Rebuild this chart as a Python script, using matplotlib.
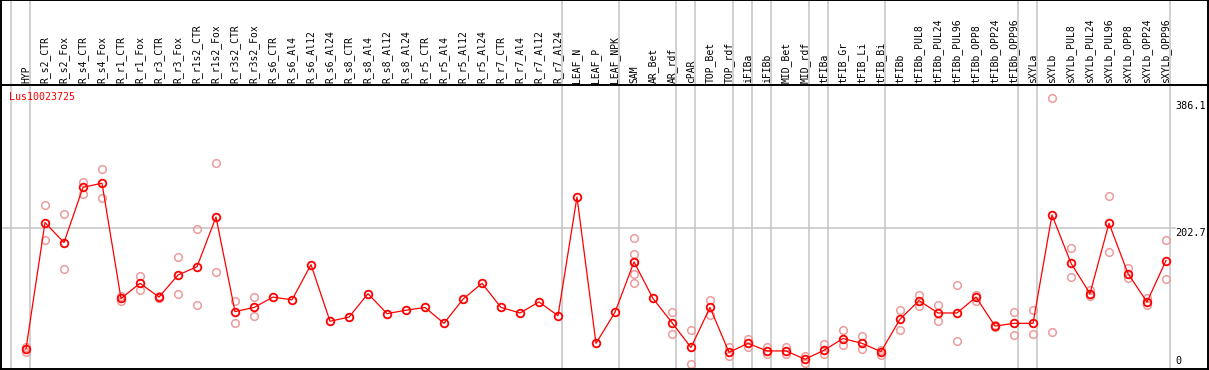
import matplotlib
matplotlib.use("Agg")
import matplotlib.pyplot as plt
from matplotlib.lines import Line2D

# sample names, in plot order
samples = ["HYP", "R_s2_CTR", "R_s2_Fox", "R_s4_CTR", "R_s4_Fox", "R_r1_CTR", "R_r1_Fox",
           "R_r3_CTR", "R_r3_Fox", "R_r1s2_CTR", "R_r1s2_Fox", "R_r3s2_CTR", "R_r3s2_Fox",
           "R_s6_CTR", "R_s6_Al4", "R_s6_Al12", "R_s6_Al24", "R_s8_CTR", "R_s8_Al4",
           "R_s8_Al12", "R_s8_Al24", "R_r5_CTR", "R_r5_Al4", "R_r5_Al12", "R_r5_Al24",
           "R_r7_CTR", "R_r7_Al4", "R_r7_Al12", "R_r7_Al24", "LEAF_N", "LEAF_P", "LEAF_NPK",
           "SAM", "AR_Bet", "AR_rdf", "cPAR", "TOP_Bet", "TOP_rdf", "iFIBa", "iFIBb",
           "MID_Bet", "MID_rdf", "tFIBa", "tFIB_Gr", "tFIB_Li", "tFIB_Bi", "tFIBb",
           "tFIBb_PUL8", "tFIBb_PUL24", "tFIBb_PUL96", "tFIBb_OPP8", "tFIBb_OPP24",
           "tFIBb_OPP96", "sXYLa", "sXYLb", "sXYLb_PUL8", "sXYLb_PUL24", "sXYLb_PUL96",
           "sXYLb_OPP8", "sXYLb_OPP24", "sXYLb_OPP96"]

# mean expression per sample
means = [28, 211, 182, 262, 268, 101, 123, 103, 135, 147, 219, 82, 88,
         103, 99, 150, 68, 74, 108, 79, 84, 88, 65, 100, 123, 88, 80, 96, 76,
         248, 36, 81, 154, 101, 66, 30, 88, 23, 36, 25, 25, 13, 26, 43, 36, 24,
         71, 98, 80, 80, 103, 61, 65, 65, 222, 152, 108, 210, 137, 96, 156]

# individual replicates
reps = [[31, 24], [236, 185], [223, 143], [270, 253], [288, 246], [104, 97], [134, 113],
        [104, 101], [161, 108], [201, 91], [297, 139], [97, 66], [103, 75],
        [], [], [], [], [], [], [], [], [], [], [], [], [], [], [], [],
        [], [], [], [188, 165, 154, 137, 123], [], [82, 50], [55, 6], [99, 77],
        [30, 18], [42, 30], [30, 21], [30, 21], [18, 8], [35, 21], [55, 33], [47, 28],
        [27, 19], [85, 56], [106, 90], [92, 68], [120, 39], [106, 97], [62, 59],
        [82, 48], [85, 49], [391, 52], [174, 132], [113, 104], [250, 169], [145, 130],
        [102, 92], [185, 129]]

# group separators sit right after these sample indices
group_ends = [-1, 0, 28, 31, 34, 35, 37, 38, 39, 41, 42, 45, 52, 53, 60]

gene = "Lus10023725"
ref_values = [386.1, 202.7, 0]

W, H = 1209, 370
x0, dx = 26, 19          # pixel of first sample, spacing
y0, k = 368.2, 0.6903    # pixel of value 0, px per unit

fig = plt.figure(figsize=(W / 100, H / 100), dpi=100)
ax = fig.add_axes([0, 0, 1, 1])
ax.set_xlim(-x0 / dx, (W - x0) / dx)
ax.set_ylim((y0 - H) / k, y0 / k)
ax.axis("off")


def vy(py):
    return (y0 - py) / k


def vx(px):
    return (px - x0) / dx


grey = "#c4c4c4"
for g in group_ends:
    ax.axvline(g + 0.226, color=grey, lw=1.1, zorder=1)
ax.plot([vx(0), vx(1175)], [202.7, 202.7], color=grey, lw=1.1, zorder=1)

# frame lines
blk = dict(color="black", lw=1.4, zorder=5)
ax.plot([vx(0), vx(1207.5)], [vy(85), vy(85)], **blk)
ax.plot([vx(0), vx(1207.5)], [vy(368.5), vy(368.5)], **blk)
ax.plot([vx(0), vx(1207.5)], [vy(0.3), vy(0.3)], **blk)
ax.plot([vx(1.2), vx(1.2)], [vy(0), vy(369)], **blk)
ax.plot([vx(1207.5), vx(1207.5)], [vy(0), vy(369)], **blk)

idx = list(range(len(samples)))
for i, r in enumerate(reps):
    ax.plot([i] * len(r), r, "o", ms=5.5, mfc="none", mec="#ec9c9c", mew=1.1, zorder=2)
ax.plot(idx, means, "-", color="red", lw=0.9, zorder=3)
ax.plot(idx, means, "o", ms=5.5, mfc="none", mec="red", mew=1.3, zorder=4)

for i, s in enumerate(samples):
    ax.text(i, vy(83), s, rotation=90, ha="center", va="bottom",
            fontsize=7, family="DejaVu Sans Mono")

ax.text(vx(9), vy(97), gene, color="red", fontsize=7.2, family="DejaVu Sans Mono",
        ha="left", va="center")

label_py = [106, 232.5, 361]
for v, py in zip(ref_values, label_py):
    ax.text(vx(1175), vy(py), f"{v:g}", fontsize=7.3, family="DejaVu Sans Mono",
            ha="left", va="center")

fig.savefig("out.png", dpi=100)
